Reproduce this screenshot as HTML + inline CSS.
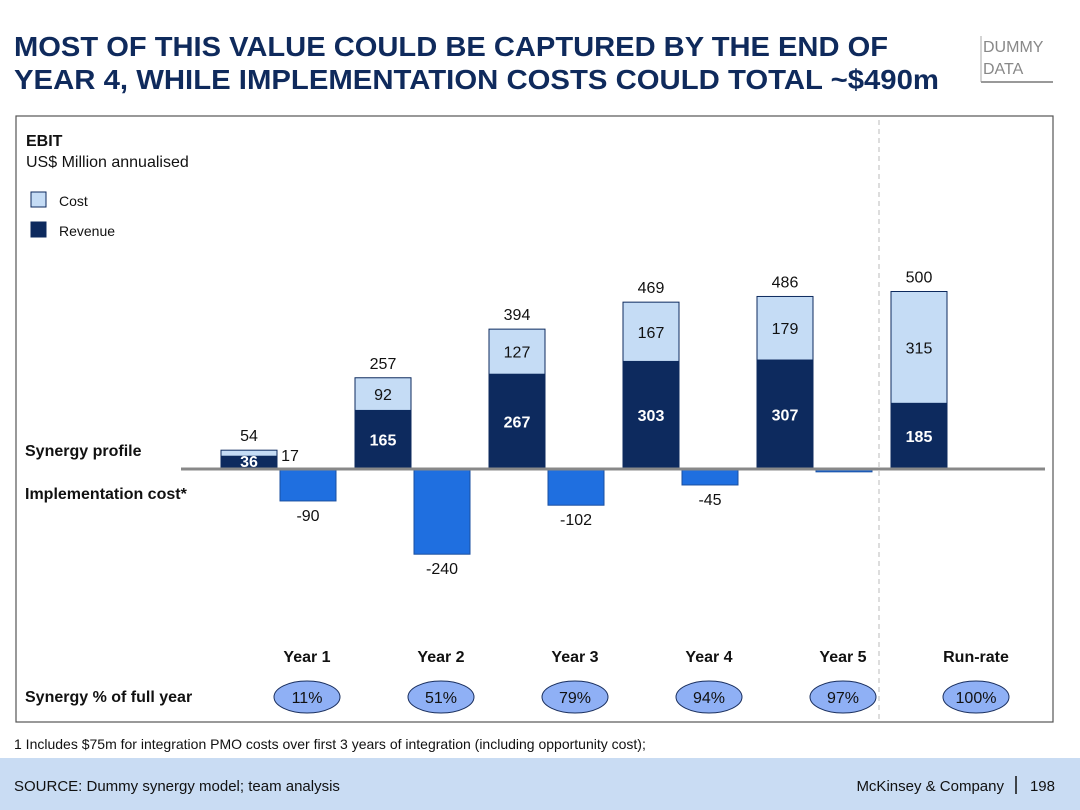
<!DOCTYPE html>
<html><head><meta charset="utf-8"><style>
html,body{margin:0;padding:0;background:#fff;}
svg{display:block;font-family:"Liberation Sans",Arial,sans-serif;}
</style></head><body>
<svg id="chart" width="1080" height="810" viewBox="0 0 1080 810">
<text x="14" y="56" font-size="28" font-weight="bold" fill="#0f2a5c" textLength="874" lengthAdjust="spacingAndGlyphs">MOST OF THIS VALUE COULD BE CAPTURED BY THE END OF</text>
<text x="14" y="89" font-size="28" font-weight="bold" fill="#0f2a5c" textLength="925" lengthAdjust="spacingAndGlyphs">YEAR 4, WHILE IMPLEMENTATION COSTS COULD TOTAL ~$490m</text>
<g>
<line x1="981" y1="36" x2="981" y2="82" stroke="#aaa" stroke-width="1"/>
<line x1="981" y1="82" x2="1053" y2="82" stroke="#999" stroke-width="2"/>
<text x="983" y="52" font-size="16" fill="#888">DUMMY</text>
<text x="983" y="74" font-size="16" fill="#888">DATA</text>
</g>
<rect x="16" y="116" width="1037" height="606" fill="none" stroke="#555" stroke-width="1.2"/>
<text x="26" y="146" font-size="16" font-weight="bold" fill="#111">EBIT</text>
<text x="26" y="167" font-size="16" fill="#111">US$ Million annualised</text>
<g><rect x="31" y="192" width="15" height="15" fill="#c5dcf5" stroke="#0d2a5e"/><text x="59" y="206" font-size="14" fill="#111">Cost</text></g>
<g><rect x="31" y="222" width="15" height="15" fill="#0d2a5e" stroke="#0d2a5e"/><text x="59" y="236" font-size="14" fill="#111">Revenue</text></g>
<line x1="879" y1="120" x2="879" y2="720" stroke="#bbb" stroke-dasharray="5,4"/>
<text x="25" y="456" font-size="16" font-weight="bold" fill="#111">Synergy profile</text>
<text x="25" y="499" font-size="16" font-weight="bold" fill="#111">Implementation cost*</text>
<text x="25" y="702" font-size="16" font-weight="bold" fill="#111">Synergy % of full year</text>
<g id="marks"></g>
<line x1="181" y1="469" x2="1045" y2="469" stroke="#888" stroke-width="3"/>
<text x="14" y="749" font-size="14" fill="#111">1 Includes $75m for integration PMO costs over first 3 years of integration (including opportunity cost);</text>
<rect x="0" y="758" width="1080" height="52" fill="#c9dcf3"/>
<text x="14" y="791" font-size="15" fill="#111">SOURCE: Dummy synergy model; team analysis</text>
<text x="1004" y="791" font-size="15" fill="#111" text-anchor="end">McKinsey &amp; Company</text>
<line x1="1016" y1="776" x2="1016" y2="794" stroke="#111" stroke-width="1.5"/>
<text x="1055" y="791" font-size="15" fill="#111" text-anchor="end">198</text>
</svg>
<script>
const categories = ["Year 1","Year 2","Year 3","Year 4","Year 5","Run-rate"];
const revenue = [36,165,267,303,307,185];
const cost = [17,92,127,167,179,315];
const totals = [54,257,394,469,486,500];
const implCost = [-90,-240,-102,-45,-8,null];
const implLabels = ["-90","-240","-102","-45","",""];
const synergyPct = ["11%","51%","79%","94%","97%","100%"];

const NS = "http://www.w3.org/2000/svg";
const g = document.getElementById("marks");
const baseY = 469, scale = 0.355, bw = 56;
function y(v){ return baseY - v*scale; }
function cx(i){ return 249 + i*134.2 + (i===5 ? 0 : 0); }
function mk(tag, attrs){ const e=document.createElementNS(NS,tag); for(const k in attrs) e.setAttribute(k,attrs[k]); g.appendChild(e); return e; }
function txt(x,yy,s,size,fill,bold){ const t=mk("text",{x:x,y:yy,"font-size":size,fill:fill,"text-anchor":"middle","font-weight":bold?"bold":"normal"}); t.textContent=s; return t; }

categories.forEach((c,i)=>{
  const x = i===5 ? 891 : 221 + i*134;
  const revTop = y(revenue[i]);
  const tot = revenue[i]+cost[i];
  const r = mk("rect",{x:x,y:revTop,width:bw,height:baseY-revTop,fill:"#0d2a5e",stroke:"#0d2a5e"});
  
  
  const cTop = y(tot);
  const cr = mk("rect",{x:x,y:cTop,width:bw,height:revTop-cTop,fill:"#c5dcf5",stroke:"#0d2a5e"});
  
  
  const small = revenue[i] < 60;
  const rl = txt(x+bw/2, small ? baseY-2 : (revTop+baseY)/2+6, String(revenue[i]), 16, "#fff", true);
  
  
  const cl = small ? txt(x+bw+13, baseY-8, String(cost[i]), 16, "#111", false) : txt(x+bw/2, (cTop+revTop)/2+6, String(cost[i]), 16, "#111", false);
  
  
  const tl = txt(x+bw/2, cTop-9, String(totals[i]), 16, "#111", false);
  
  
  if(implCost[i]!==null){
    const nx = x+59;
    const nb = y(implCost[i]);
    const ib = mk("rect",{x:nx,y:baseY,width:bw,height:nb-baseY,fill:"#1f6fe0",stroke:"#1a4fa0"});
    
    
    if(implLabels[i]){
      const il = txt(nx+bw/2, nb+20, implLabels[i], 16, "#111", false);
      
      
    }
  }
  const lx = i===5 ? 976 : 307 + i*134;
  const yl = txt(lx, 662, c, 16, "#111", true);
  
  
  const el = mk("ellipse",{cx:lx,cy:697,rx:33,ry:16,fill:"#8fb0f5",stroke:"#1a2f5e","stroke-width":1});
  
  
  const pl = txt(lx, 703, synergyPct[i], 16, "#111", false);
  
  
});
</script>
</body></html>
